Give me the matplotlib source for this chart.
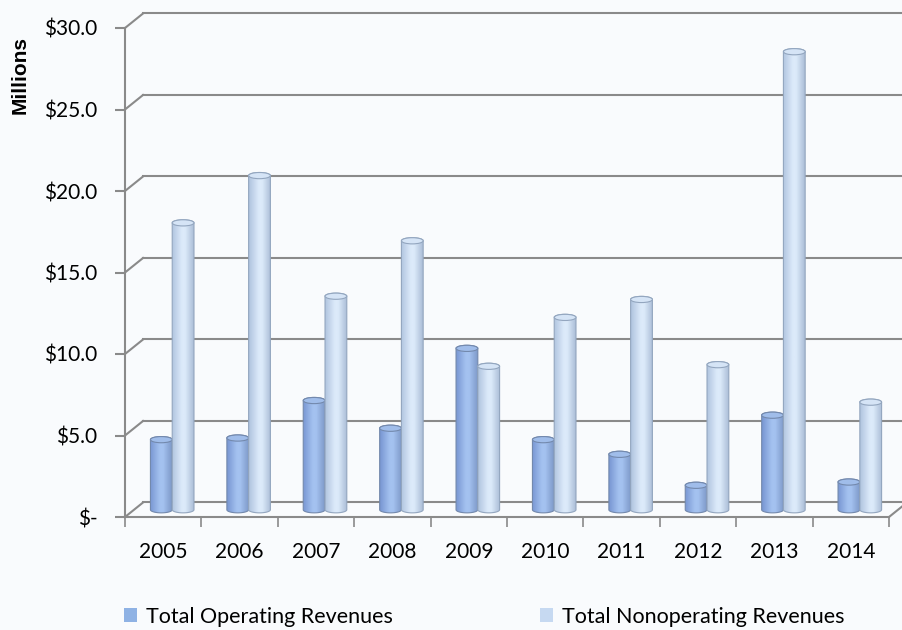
# revenues.py
# Operating vs nonoperating revenues, drawn as a pseudo-3D cylinder column chart

import numpy as np
import matplotlib.pyplot as plt
from matplotlib.patches import Ellipse, PathPatch, Patch
from matplotlib.path import Path

years = ["2005", "2006", "2007", "2008", "2009", "2010", "2011", "2012", "2013", "2014"]
operating = [4.3, 4.4, 6.7, 5.0, 9.9, 4.3, 3.4, 1.5, 5.8, 1.7]
nonoperating = [17.6, 20.5, 13.1, 16.5, 8.8, 11.8, 12.9, 8.9, 28.1, 6.6]
y_ticks = [0, 5, 10, 15, 20, 25, 30]
y_tick_labels = ["$-", "$5.0", "$10.0", "$15.0", "$20.0", "$25.0", "$30.0"]
series_names = ["Total Operating Revenues", "Total Nonoperating Revenues"]

W, H = 902, 630
BG = "#f9fbfd"
GRID = "#8a8a8a"

# depth of the fake 3D box, in data units
DX = 0.236
DY = 0.89
BAR_W = 0.285
CAP = 0.19  # half height of the elliptic caps

styles = {
    "op": dict(edge="#7389ad", left="#7896d2", mid="#a4c2f0", right="#7e99c9", cap="#a0bdea"),
    "nonop": dict(edge="#93a6bf", left="#b0c4df", mid="#dceafa", right="#abbed7", cap="#d5e4f6"),
}


def cylinder(ax, cx, base, value, st, z):
    """Draws one cylinder with a horizontal shading gradient and a top cap."""
    x0, x1 = cx - BAR_W / 2, cx + BAR_W / 2
    top = base + value
    t = np.linspace(np.pi, 2 * np.pi, 40)
    lower = np.column_stack([cx + BAR_W / 2 * np.cos(t), base + CAP * np.sin(t)])
    t2 = np.linspace(0, np.pi, 40)
    upper = np.column_stack([cx + BAR_W / 2 * np.cos(t2), top + CAP * np.sin(t2)])
    verts = np.vstack([[x0, top], [x0, base], lower, [x1, base], [x1, top], upper, [x0, top]])
    path = Path(verts)

    patch = PathPatch(path, facecolor="none", edgecolor=st["edge"], lw=0.8, zorder=z + 0.2)
    ax.add_patch(patch)

    # left -> bright -> right shading
    cols = [st["left"], st["mid"], st["mid"], st["right"]]
    pos = [0.0, 0.45, 0.6, 1.0]
    rgb = np.array([plt.matplotlib.colors.to_rgb(c) for c in cols])
    xs = np.linspace(0, 1, 64)
    grad = np.stack([np.interp(xs, pos, rgb[:, k]) for k in range(3)], axis=-1)[None, :, :]
    img = ax.imshow(grad, extent=[x0, x1, base - CAP, top + CAP], aspect="auto",
                    interpolation="bilinear", zorder=z)
    img.set_clip_path(patch)

    ax.add_patch(Ellipse((cx, top), BAR_W, 2 * CAP, facecolor=st["cap"],
                         edgecolor=st["edge"], lw=0.8, zorder=z + 0.3))


def main():
    plt.rcParams["font.family"] = ["Lato", "DejaVu Sans"]

    fig = plt.figure(figsize=(W / 100, H / 100), dpi=100, facecolor=BG)
    ax = fig.add_axes([125 / W, (H - 517) / H, (889 - 125) / W, (517 - 28) / H])
    ax.set_facecolor("none")

    n = len(years)

    # side wall and back wall gridlines
    for v in y_ticks:
        ax.plot([0, DX], [v, v + DY], color=GRID, lw=1.5, clip_on=False, zorder=1)
        ax.plot([DX, n + DX], [v + DY, v + DY], color=GRID, lw=1.5, clip_on=False, zorder=1)
    # right edge of the floor
    ax.plot([n, n + DX], [0, DY], color=GRID, lw=1.5, clip_on=False, zorder=1)

    for i in range(n):
        cx = i + 0.5 + DX / 2
        cylinder(ax, cx - BAR_W / 2, DY / 2, operating[i], styles["op"], 3 + 2 * i)
        cylinder(ax, cx + BAR_W / 2, DY / 2, nonoperating[i], styles["nonop"], 4 + 2 * i)

    ax.set_xlim(0, n)
    ax.set_ylim(0, 30)

    for side in ("top", "right"):
        ax.spines[side].set_visible(False)
    for side in ("left", "bottom"):
        ax.spines[side].set_color(GRID)
        ax.spines[side].set_linewidth(1.5)

    ax.set_yticks(y_ticks, y_tick_labels)
    ax.set_xticks(range(n + 1), [""] * (n + 1))
    ax.set_xticks(np.arange(n) + 0.5, years, minor=True)
    ax.tick_params(axis="y", length=7, width=1.5, color=GRID, pad=13, labelsize=15)
    ax.tick_params(axis="x", which="major", length=7, width=1.2, color=GRID)
    ax.tick_params(axis="x", which="minor", length=0, pad=18, labelsize=15)

    fig.text(20 / W, 1 - 75 / H, "Millions", rotation=90, ha="center", va="center",
             fontsize=15, fontweight="bold", family="Liberation Sans")

    handles = [Patch(facecolor="#8fb2e4"), Patch(facecolor="#c6d9f1")]
    for h, name, x in zip(handles, series_names, (124, 540)):
        fig.legend(handles=[h], labels=[name], loc="center left",
                   bbox_to_anchor=(x / W, 1 - 617 / H), frameon=False, fontsize=15.5,
                   handlelength=0.62, handleheight=0.62, handletextpad=0.4,
                   borderpad=0, borderaxespad=0)

    fig.savefig("out.png", dpi=100, facecolor=BG)


if __name__ == "__main__":
    main()
